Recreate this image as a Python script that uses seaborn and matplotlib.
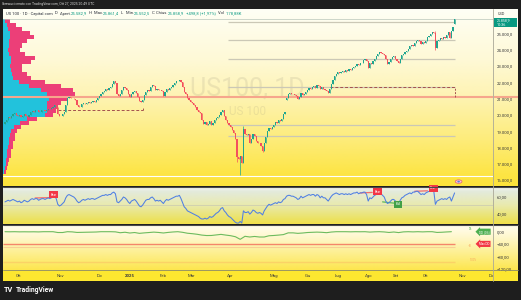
import numpy as np
import pandas as pd
import matplotlib
matplotlib.use("Agg")
import matplotlib.pyplot as plt
import seaborn as sns
from matplotlib.colors import LinearSegmentedColormap
from matplotlib.lines import Line2D
from matplotlib.patches import Rectangle, Ellipse

# ---------------------------------------------------------------- data
closes = [
    19580, 19700, 19850, 19800, 19950, 20050, 20100, 20000, 19900, 20000,
    19850, 19900, 20050, 19950, 19880, 20000, 20150, 20250, 20200, 20300,
    20280, 20150, 20200, 20280, 20320, 20250, 20300, 20380, 20350, 20420,
    20500, 20600, 20450, 20050, 19900, 19950, 20050, 20150, 20600, 21050,
    21100, 21050, 21000, 20980, 20900, 20600, 20450, 20500, 20650, 20700,
    20680, 20750, 20800, 20720, 20800, 20850, 20800, 20900, 21000, 21150,
    21300, 21400, 21450, 21600, 21500, 21650, 21700, 21900, 22050, 21950,
    21250, 21150, 21300, 21500, 21700, 21650, 21500, 21250, 21100, 21300,
    21400, 21450, 21350, 21100, 20850, 20800, 20900, 21200, 21400, 21500,
    21450, 21700, 21850, 21750, 21550, 21600, 21500, 21550, 21450, 21130,
    21400, 21600, 21550, 21650, 21700, 21850, 21950, 22050, 22100, 22150,
    22000, 21700, 21400, 21300, 21050, 20900, 20800, 20700, 20600, 20450,
    20300, 20200, 20100, 19700, 19450, 19550, 19350, 19450, 19600, 19400,
    19500, 19700, 19800, 19850, 20000, 20200, 20300, 19900, 19700, 19500,
    19350, 19250, 19050, 18900, 18500, 17400, 17300, 17450, 17050, 19150,
    18800, 18750, 18800, 18300, 18500, 18800, 18700, 18400, 18250, 18300,
    18100, 17800, 18300, 18650, 19000, 19200, 19100, 19250, 19400, 19550,
    19500, 19700, 19650, 19750, 20050, 20150, 21050, 21300, 21350, 21250,
    21300, 21200, 21150, 20950, 21100, 21350, 21200, 21300, 21400, 21550,
    21650, 21600, 21700, 21750, 21650, 21850, 21750, 21600, 21700, 21600,
    21550, 21450, 21350, 21600, 21900, 22150, 22350, 22500, 22600, 22550,
    22650, 22700, 22650, 22750, 22700, 22800, 22750, 22850, 22950, 23000,
    23100, 23050, 23150, 23200, 23350, 23450, 23300, 22850, 23150, 23100,
    23300, 23450, 23600, 23700, 23850, 23800, 23700, 23650, 23400, 23100,
    23250, 23400, 23550, 23600, 23450, 23300, 23150, 23400, 23650, 23700,
    23850, 23900, 24050, 24200, 24300, 24250, 24400, 24500, 24600, 24500,
    24350, 24450, 24400, 24550, 24750, 24850, 24950, 25100, 25000, 24100,
    24500, 24600, 24700, 24650, 24750, 24700, 24900, 25050, 24700, 25150,
    25360.1, 25858.9,
]
first_open = 19450
gap_opens = {176: 20900, 281: 25582.9}
wick_lows = {145: 17100, 147: 16300, 161: 17700, 269: 23980, 281: 25552.5}
wick_highs = {149: 19300, 269: 25150, 281: 25861.4}

rsi = [
    54, 55, 56, 55, 56, 57, 56, 55, 54, 55,
    53, 54, 56, 55, 54, 55, 57, 58, 57, 58,
    58, 56, 57, 58, 58, 57, 58, 59, 58, 59,
    60, 61, 58, 51, 49, 50, 52, 54, 59, 62,
    63, 62, 61, 60, 58, 55, 53, 54, 56, 57,
    56, 57, 58, 57, 58, 58, 57, 58, 59, 60,
    61, 62, 62, 63, 62, 63, 63, 65, 66, 64,
    54, 53, 55, 57, 60, 59, 57, 54, 52, 55,
    56, 57, 55, 52, 49, 48, 50, 53, 56, 57,
    57, 59, 60, 58, 55, 56, 55, 56, 54, 52,
    55, 57, 56, 57, 58, 59, 60, 61, 61, 62,
    58, 53, 48, 46, 43, 42, 41, 40, 39, 38,
    37, 36, 34, 33, 33, 34, 33, 34, 36, 35,
    36, 38, 40, 41, 43, 46, 47, 43, 41, 38,
    36, 35, 33, 31, 29, 28, 28, 30, 28, 43,
    41, 41, 42, 39, 41, 44, 43, 41, 40, 41,
    40, 38, 43, 46, 49, 51, 50, 51, 52, 53,
    52, 54, 53, 54, 57, 58, 61, 62, 62, 61,
    61, 60, 59, 57, 58, 61, 59, 60, 61, 62,
    63, 62, 63, 63, 61, 63, 62, 59, 61, 59,
    59, 57, 55, 58, 61, 63, 64, 65, 64, 63,
    64, 64, 63, 64, 63, 64, 63, 64, 65, 65,
    66, 64, 65, 65, 66, 66, 63, 55, 59, 58,
    60, 62, 63, 64, 65, 64, 62, 60, 55, 52,
    53, 55, 57, 57, 55, 54, 52, 56, 59, 60,
    62, 63, 64, 65, 64, 66, 66, 67, 67, 65,
    63, 64, 63, 65, 66, 67, 67, 68, 67, 51,
    55, 56, 57, 58, 57, 58, 57, 59, 60, 55,
    60, 65,
]

# drawdown line, one reading every 3rd bar
dd_every = 3
drawdown = [
    0, -0.3, 0, -0.5, -0.3, -0.5, -0.3, -0.7, 0, 0,
    0, -2.7, -2.7, 0, -0.6, -2.4, -2.1, -1.7, -1.4, -1.0,
    0, 0, 0, -0.5, -3.4, -1.8, -4.3, -2.7, -5.4, -3.9,
    -2.7, -1.4, -2.5, -4.2, -2.3, -0.9, 0, -2.0, -5.0, -6.5,
    -8.4, -11.1, -12.6, -12.4, -10.6, -8.8, -11.1, -13.1, -16.5, -25.0,
    -15.1, -17.4, -15.6, -17.4, -17.4, -13.3, -12.4, -11.1, -9.5, -3.8,
    -3.8, -5.4, -4.3, -2.7, -2.0, -1.4, -2.0, -3.2, -1.1, 0,
    0, 0, -0.4, 0, -0.2, 0, -1.3, -0.4, 0, -0.8,
    -2.5, -1.0, -2.9, -0.6, 0, -0.6, 0, -0.6, 0, 0,
    -2.4, -1.8, -0.8, 0,
]

# volume profile (price bins, up / down volume)
vp_price = [16500, 16750, 17000, 17250, 17500, 17750, 18000, 18250, 18500, 18750,
            19000, 19250, 19500, 19750, 20000, 20250, 20500, 20750, 21000, 21250,
            21500, 21750, 22000, 22250, 22500, 22750, 23000, 23250, 23500, 23750,
            24000, 24250, 24500, 24750, 25000, 25250, 25500, 25750]
vp_up = [1, 2, 3, 3, 4, 4, 5, 6, 6, 7,
         8, 11, 17, 24, 42, 44, 44, 44, 46, 44,
         38, 26, 16, 10, 9, 8, 7, 8, 8, 6,
         5, 6, 6, 7, 7, 5, 4, 2]
vp_down = [2, 2, 2, 3, 4, 4, 5, 4, 6, 5,
           6, 7, 9, 10, 8, 9, 11, 14, 18, 28,
           32, 32, 26, 18, 15, 11, 12, 20, 24, 16,
           12, 13, 18, 24, 20, 14, 9, 5]

level_lines = [25700, 24570, 23420, 21725, 19380, 18720]
poc_level = 21110
white_level = 16264
dashed_1 = dict(level=20300, start=33.3, end=86.5, tick_to=20500)
dashed_2 = dict(level=21730, start=203, end=281.3, tick_to=21110)

price_ticks = [16000, 17000, 18000, 19000, 20000, 21000, 22000, 23000, 24000, 25000]
rsi_ticks = [60, 40]
dd_ticks = [0, -40, -80, -120]
dd_levels = [-40, -50, -100]

month_labels = ['Ott', 'Nov', 'Dic', '2025', 'Feb', 'Mar', 'Apr', 'Mag', 'Giu',
                'Lug', 'Ago', 'Set', 'Ott', 'Nov', 'Dic']
month_pos = [8.75, 34.4, 59, 78, 98.6, 116.7, 140.6, 168.3, 189, 208, 227,
             244.4, 263, 286, 304]

bear_labels = [(30.3, 63.0), (233, 66.7), (267.5, 70.8)]
bull_labels = [(245.8, 50.8)]
bear_lines = [((18.8, 28.0), (58.8, 59.2)), ((222, 229.5), (65.0, 65.6)), ((256, 264), (67.0, 67.6))]
bull_lines = [((236, 243), (54.0, 52.5))]

# ---------------------------------------------------------------- style
sns.set_style("white")
plt.rcParams['font.family'] = ['Roboto', 'DejaVu Sans']

UP, DN = '#1fa58f', '#f4505d'
W, H = 521, 300
PL, PR, CR = 3, 493, 518
XLIM = (-1.25, 305)


def price_at(y):
    return 25000 - (y - 33.3) * 61.35


def rsi_at(y):
    return 60 - (y - 197) / 0.815


def dd_at(y):
    return -(y - 231.7) / 0.305


def it_num(v, d):
    s = f"{abs(v):,.{d}f}".replace(",", "X").replace(".", ",").replace("X", ".")
    return ("\u2212" if v < 0 else "") + s


fig = plt.figure(figsize=(W / 100, H / 100), dpi=100)
fig.patch.set_facecolor('#1e1e1e')


def rect(x0, y0, x1, y1):
    return [x0 / W, 1 - y1 / H, (x1 - x0) / W, (y1 - y0) / H]


def gradient(ax, stops):
    cmap = LinearSegmentedColormap.from_list('g', stops)
    grad = np.linspace(0, 1, 256).reshape(-1, 1)
    ax.imshow(grad, extent=[0, 1, 0, 1], transform=ax.transAxes, cmap=cmap,
              aspect='auto', origin='lower', zorder=0, interpolation='bilinear')


def clean(ax):
    for s in ax.spines.values():
        s.set_visible(False)
    ax.set_xticks([])


PRICE_STOPS = [(0, '#fde33a'), (0.07, '#fde546'), (0.26, '#fdec7a'),
               (0.49, '#fef3b0'), (0.71, '#fef9d6'), (1, '#fffff6')]
RSI_STOPS = [(0, '#f2e04a'), (0.12, '#ece260'), (0.5, '#e9eaae'),
             (0.86, '#e3eadc'), (0.93, '#eff2ea'), (1, '#f7f8f3')]
DD_STOPS = [(0, '#fde64e'), (0.35, '#fdef8c'), (0.75, '#fff8cf'), (1, '#fffdf0')]

# ------------------------------------------------------------ price pane
ax_pc = fig.add_axes(rect(PR, 8.5, CR, 186), zorder=1)
gradient(ax_pc, PRICE_STOPS)
ax_p = fig.add_axes(rect(PL, 8.5, PR, 186), zorder=3)
gradient(ax_p, PRICE_STOPS)

n = len(closes)
x = np.arange(n)
c = np.array(closes, float)
o = np.r_[first_open, c[:-1]]
for k, v in gap_opens.items():
    o[k] = v
hi = np.maximum(o, c)
lo = np.minimum(o, c)
for k, v in wick_highs.items():
    hi[k] = v
for k, v in wick_lows.items():
    lo[k] = v
up = c >= o
cols = np.where(up, UP, DN)

# volume profile
vp_scale = 1 / 1.6
vu = np.array(vp_up) * vp_scale
vd = np.array(vp_down) * vp_scale
ax_p.barh(vp_price, vu, left=XLIM[0], height=250, color='#22c2dc', linewidth=0, zorder=1)
ax_p.barh(vp_price, vd, left=XLIM[0] + vu, height=250, color='#ec3f78', linewidth=0, zorder=1)

# watermark
ax_p.text(0.498, 0.552, 'US100, 1D', transform=ax_p.transAxes, ha='center', va='center',
          fontsize=18, color='#8f8a78', alpha=0.16, zorder=1)
ax_p.text(0.498, 0.4225, 'US 100', transform=ax_p.transAxes, ha='center', va='center',
          fontsize=8.5, color='#8f8a78', alpha=0.16, zorder=1)

# drawings
for lv in level_lines:
    ax_p.hlines(lv, 139.4, 281.3, color='#cbc8b6', lw=0.9, zorder=2)
ax_p.axhline(poc_level, color='#f6a68c', lw=1.5, zorder=2)
ax_pc.axhline(poc_level, color='#f6a68c', lw=1.5, zorder=2)
ax_p.axhline(white_level, color='white', lw=0.8, zorder=2)
ax_p.axhline(closes[-1], color='#b8c6ba', lw=0.5, zorder=2)
for d in (dashed_1, dashed_2):
    ax_p.hlines(d['level'], d['start'], d['end'], color='#a4514e', lw=0.7,
                linestyles=(0, (3, 2)), zorder=2)
    ax_p.vlines(d['end'], min(d['level'], d['tick_to']), max(d['level'], d['tick_to']),
                color='#a4514e', lw=0.7, linestyles=(0, (2, 1.5)), zorder=2)

# candles
ax_p.vlines(x, lo, hi, colors=cols, lw=0.5, zorder=3)
ax_p.bar(x, np.where(np.abs(c - o) < 25, 25, c - o), bottom=o, width=0.8,
         color=cols, linewidth=0, zorder=4)

# earnings flag icon
ax_p.add_patch(Ellipse((283.5, price_at(181.6)), 4.2, 210, fc='#f6c9d6', ec='#e4577f',
                       lw=0.5, zorder=4))
ax_p.add_patch(Ellipse((283.5, price_at(181.6)), 1.6, 110, fc='#5f7fd8', ec='none', zorder=5))

ax_p.set_xlim(XLIM)
ax_p.set_ylim(price_at(186), price_at(8.5))
clean(ax_p)
ax_p.yaxis.tick_right()
ax_p.set_yticks(price_ticks)
ax_p.set_yticklabels([it_num(v, 1) for v in price_ticks])
ax_p.tick_params(axis='y', length=0, pad=2.8, labelsize=3.1, labelcolor='#3a3a3a')

ax_pc.set_ylim(ax_p.get_ylim())
ax_pc.set_xlim(0, 1)
ax_pc.set_axis_off()
# current price label
pp = 61.35
ax_pc.add_patch(Rectangle((0.03, closes[-1] - 8.0 * pp), 0.94, 9.5 * pp, fc='#089981',
                          ec='none', zorder=5))
ax_pc.text(0.15, closes[-1] - 0.6 * pp, it_num(closes[-1], 1), fontsize=2.5, color='white',
           va='center', ha='left', zorder=6)
ax_pc.text(0.15, closes[-1] - 5.3 * pp, '10:36', fontsize=2.7, color='white',
           va='center', ha='left', zorder=6)
ax_pc.text(0.2, price_at(14.3), 'USD', fontsize=2.8, color='#3a3a3a', va='center',
           ha='left', zorder=6)

# --------------------------------------------------------------- RSI pane
ax_rc = fig.add_axes(rect(PR, 187, CR, 224), zorder=1)
gradient(ax_rc, RSI_STOPS)
ax_rc.set_axis_off()
ax_r = fig.add_axes(rect(PL, 187, PR, 224), zorder=3)
gradient(ax_r, RSI_STOPS)
ax_r.axhline(50, color='#c9c9b2', lw=0.5, zorder=1)
sns.lineplot(x=np.arange(len(rsi)), y=rsi, ax=ax_r, color='#4f7fe4', lw=0.75, zorder=3)
for (xs, ys) in bear_lines:
    ax_r.plot(xs, ys, color='#f36b6b', lw=0.9, zorder=2)
for (xs, ys) in bull_lines:
    ax_r.plot(xs, ys, color='#5cb85c', lw=0.9, zorder=2)
for (bx, by) in bear_labels:
    ax_r.text(bx, by, 'Bear', fontsize=2.2, color='white', ha='center', va='center', zorder=5,
              bbox=dict(boxstyle='square,pad=0.45', fc='#f23645', ec='none'))
for (bx, by) in bull_labels:
    ax_r.text(bx, by, 'Bull', fontsize=2.2, color='white', ha='center', va='center', zorder=5,
              bbox=dict(boxstyle='square,pad=0.45', fc='#43a047', ec='none'))
ax_r.set_xlim(XLIM)
ax_r.set_ylim(rsi_at(224), rsi_at(187))
clean(ax_r)
ax_r.set_xlabel('')
ax_r.set_ylabel('')
ax_r.yaxis.tick_right()
ax_r.set_yticks(rsi_ticks)
ax_r.set_yticklabels([it_num(v, 2) for v in rsi_ticks])
ax_r.tick_params(axis='y', length=0, pad=2.8, labelsize=3.1, labelcolor='#3a3a3a')

# ---------------------------------------------------------- drawdown pane
ax_dc = fig.add_axes(rect(PR, 225, CR, 270), zorder=1)
gradient(ax_dc, DD_STOPS)
ax_dc.set_axis_off()
ax_d = fig.add_axes(rect(PL, 225, PR, 270), zorder=3)
gradient(ax_d, DD_STOPS)
ax_d.hlines(dd_levels[0], XLIM[0], 281.5, color='#f4866a', lw=1.0, zorder=2)
ax_d.hlines(dd_levels[1], XLIM[0], 281.5, color='#f9cf94', lw=0.8, zorder=2)
ax_d.hlines(dd_levels[2], XLIM[0], 281.5, color='#fbd266', lw=1.0, zorder=2)
sns.lineplot(x=np.arange(0, dd_every * len(drawdown), dd_every), y=drawdown, ax=ax_d,
             color='#6dbb5e', lw=0.8, zorder=3)
ax_d.text(299.5, 0, 'DD (0%)', fontsize=2.2, color='white', ha='center', va='center', zorder=5,
          bbox=dict(boxstyle='larrow,pad=0.35', fc='#4caf50', ec='none'))
ax_d.text(299.5, -40, 'Max DD', fontsize=2.2, color='white', ha='center', va='center', zorder=5,
          bbox=dict(boxstyle='larrow,pad=0.35', fc='#f23645', ec='none'))
ax_d.text(291, dd_at(228.7), '0%', fontsize=1.9, color='#4caf50', ha='center', va='center')
ax_d.text(290.6, dd_at(245.7), '-50', fontsize=1.9, color='#f7a35c', ha='center', va='center')
ax_d.text(293, dd_at(260.3), '-100%', fontsize=1.9, color='#f7a35c', ha='center', va='center')
ax_d.set_xlim(XLIM)
ax_d.set_ylim(dd_at(270), dd_at(225))
clean(ax_d)
ax_d.set_xlabel('')
ax_d.set_ylabel('')
ax_d.yaxis.tick_right()
ax_d.set_yticks(dd_ticks)
ax_d.set_yticklabels([it_num(v, 2) for v in dd_ticks])
ax_d.tick_params(axis='y', length=0, pad=2.8, labelsize=3.1, labelcolor='#3a3a3a')

# ------------------------------------------------------------- time axis
fig.add_artist(Rectangle((PL / W, 1 - 281 / H), (CR - PL) / W, 11 / H,
                         transform=fig.transFigure, fc='#fde730', ec='none', zorder=0.5))
ax_t = fig.add_axes(rect(PL, 270, PR, 281), zorder=4)
ax_t.set_xlim(XLIM)
ax_t.set_ylim(0, 1)
ax_t.set_axis_off()
for lab, pos in zip(month_labels, month_pos):
    t = ax_t.text(pos, 0.45, lab, fontsize=3.1, color='#3a3a3a', ha='center', va='center',
                  fontweight='bold' if lab == '2025' else 'normal')
    t.set_clip_box(ax_t.bbox)
    t.set_clip_on(True)

# separators
def hline_px(y, x0, x1, color, lw):
    fig.add_artist(Line2D([x0 / W, x1 / W], [1 - y / H, 1 - y / H], color=color, lw=lw,
                          transform=fig.transFigure, zorder=10))


def vline_px(x0, y0, y1, color, lw):
    fig.add_artist(Line2D([x0 / W, x0 / W], [1 - y0 / H, 1 - y1 / H], color=color, lw=lw,
                          transform=fig.transFigure, zorder=10))


hline_px(186.5, PL, CR, '#4a4a4a', 0.8)
hline_px(224.5, PL, CR, '#4a4a4a', 0.8)
hline_px(270.2, PL, CR, '#8c8a6a', 0.6)
vline_px(493.2, 8.5, 281, '#aaa898', 0.6)

# ------------------------------------------------------------- texts
renderer = fig.canvas.get_renderer()


def seq_text(x_px, y_px, parts, size):
    xx = x_px
    for s, col in parts:
        t = fig.text(xx / W, 1 - y_px / H, s, color=col, fontsize=size, va='center', ha='left',
                     zorder=12)
        xx += t.get_window_extent(renderer).width


dark, green = '#2a2e39', '#089981'
seq_text(6.5, 13.5, [
    ('US 100 \u00b7 1D \u00b7 Capital.com', dark), ('  D', dark),
    ('  Apert.', dark), ('25.582,9', green),
    ('  H', dark), ('  Max.', dark), ('25.861,4', green),
    ('  L', dark), ('  Min.', dark), ('25.552,5', green),
    ('  C', dark), ('  Chius.', dark), ('25.858,9', green),
    ('  +498,8 (+1,97%)', green), ('  Vol', dark), ('  178,88K', green)], 3.0)

fig.text(2 / W, 1 - 4.4 / H, 'Ibrewuci creato con TradingView.com, Ott 27, 2025 20:49 UTC',
         color='#d6d6d6', fontsize=2.4, va='center', ha='left')
fig.text(3.5 / W, 1 - 290.3 / H, 'TV', color='white', fontsize=5.2, fontweight='bold',
         va='center', ha='left')
fig.text(15.5 / W, 1 - 290.3 / H, 'TradingView', color='white', fontsize=4.9,
         fontweight='bold', va='center', ha='left')

fig.savefig('out.png', dpi=100, facecolor=fig.get_facecolor())
